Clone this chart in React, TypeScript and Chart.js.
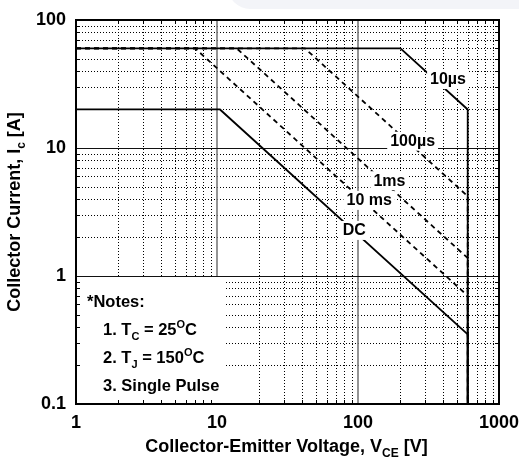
import React, { useEffect, useRef } from "react";
import { Chart, registerables } from "chart.js";
Chart.register(...registerables);

// Axis decades and labels
const xDecades = [1, 10, 100, 1000];
const yDecades = [0.1, 1, 10, 100];
const xTickLabels = ["1", "10", "100", "1000"];
const yTickLabels = ["0.1", "1", "10", "100"];
const minorSteps = [2, 3, 4, 5, 6, 7, 8, 9];

// SOA boundaries (V, A)
const dcV = [1, 10.5, 600, 600];
const dcI = [20, 20, 0.35, 0.1];
const ms10V = [1, 7, 600, 600];
const ms10I = [60, 60, 0.7, 0.1];
const ms1V = [1, 13.8, 600, 600];
const ms1I = [60, 60, 1.38, 0.1];
const us100V = [1, 42, 600, 600];
const us100I = [60, 60, 4.2, 0.1];
const us10V = [1, 200, 600, 600];
const us10I = [60, 60, 20, 0.1];

// Curve annotation labels (data coords of label centers)
const curveLabels = ["10µs", "100µs", "1ms", "10 ms", "DC"];
const curveLabelV = [435, 244, 167, 120, 94];
const curveLabelI = [34.6, 11.4, 5.6, 3.93, 2.29];

// Notes box extent (data coords)
const notesBoxV = [1, 11.4];
const notesBoxI = [0.1, 1];

type Seg = { t: string; sub?: boolean; sup?: boolean };
const notesLines: Seg[][] = [
  [{ t: "*Notes:" }],
  [{ t: "1. T" }, { t: "C", sub: true }, { t: " = 25" }, { t: "O", sup: true }, { t: "C" }],
  [{ t: "2. T" }, { t: "J", sub: true }, { t: " = 150" }, { t: "O", sup: true }, { t: "C" }],
  [{ t: "3. Single Pulse" }],
];
const xTitle: Seg[] = [{ t: "Collector-Emitter Voltage, V" }, { t: "CE", sub: true }, { t: " [V]" }];
const yTitle: Seg[] = [{ t: "Collector Current, I" }, { t: "c", sub: true }, { t: " [A]" }];

const FAM = '"Liberation Sans", Arial, Helvetica, sans-serif';
const font = (s: number) => `bold ${s}px ${FAM}`;

function pts(v: number[], i: number[]) {
  return v.map((x, k) => ({ x, y: i[k] }));
}

function richWidth(ctx: CanvasRenderingContext2D, segs: Seg[], size: number, small: number) {
  let w = 0;
  for (const s of segs) {
    ctx.font = font(s.sub || s.sup ? small : size);
    w += ctx.measureText(s.t).width;
  }
  return w;
}

function drawRich(
  ctx: CanvasRenderingContext2D,
  segs: Seg[],
  x: number,
  y: number,
  size: number,
  small: number,
  align: "left" | "center"
) {
  const w = richWidth(ctx, segs, size, small);
  let cx = align === "center" ? x - w / 2 : x;
  ctx.textBaseline = "alphabetic";
  ctx.textAlign = "left";
  for (const s of segs) {
    ctx.font = font(s.sub || s.sup ? small : size);
    const dy = s.sub ? size * 0.28 : s.sup ? -size * 0.42 : 0;
    ctx.fillText(s.t, cx, y + dy);
    cx += ctx.measureText(s.t).width;
  }
}

const soaPlugin = {
  id: "soaPlugin",
  beforeDraw(chart: any) {
    const ctx: CanvasRenderingContext2D = chart.ctx;
    ctx.save();
    ctx.fillStyle = "#f3f4f8";
    ctx.beginPath();
    (ctx as any).roundRect(228, -40, 400, 49, 22);
    ctx.fill();
    ctx.restore();
  },
  beforeDatasetsDraw(chart: any) {
    const ctx: CanvasRenderingContext2D = chart.ctx;
    const { left, right, top, bottom } = chart.chartArea;
    const xs = chart.scales.x;
    const ys = chart.scales.y;
    ctx.save();
    // minor grid
    ctx.strokeStyle = "#000";
    ctx.lineWidth = 1;
    ctx.setLineDash([1, 2]);
    for (const d of xDecades.slice(0, 3)) {
      for (const m of minorSteps) {
        const px = Math.round(xs.getPixelForValue(d * m)) + 0.5;
        ctx.beginPath();
        ctx.moveTo(px, top);
        ctx.lineTo(px, bottom);
        ctx.stroke();
      }
    }
    for (const d of yDecades.slice(0, 3)) {
      for (const m of minorSteps) {
        const py = Math.round(ys.getPixelForValue(d * m)) + 0.5;
        ctx.beginPath();
        ctx.moveTo(left, py);
        ctx.lineTo(right, py);
        ctx.stroke();
      }
    }
    ctx.setLineDash([]);
    // major verticals (gray)
    ctx.strokeStyle = "#7a7a7a";
    ctx.lineWidth = 1.6;
    for (const d of xDecades.slice(1, 3)) {
      const px = xs.getPixelForValue(d);
      ctx.beginPath();
      ctx.moveTo(px, top);
      ctx.lineTo(px, bottom);
      ctx.stroke();
    }
    // major horizontals (dark)
    ctx.strokeStyle = "#111";
    ctx.lineWidth = 1;
    for (const d of yDecades.slice(1, 3)) {
      const py = Math.round(ys.getPixelForValue(d)) + 0.5;
      ctx.beginPath();
      ctx.moveTo(left, py);
      ctx.lineTo(right, py);
      ctx.stroke();
    }
    ctx.restore();
  },
  afterDatasetsDraw(chart: any) {
    const ctx: CanvasRenderingContext2D = chart.ctx;
    const { left, right, top, bottom } = chart.chartArea;
    const xs = chart.scales.x;
    const ys = chart.scales.y;
    ctx.save();
    // curve labels with white background
    ctx.font = font(16);
    ctx.textAlign = "center";
    ctx.textBaseline = "middle";
    curveLabels.forEach((t, k) => {
      const cx = xs.getPixelForValue(curveLabelV[k]);
      const cy = ys.getPixelForValue(curveLabelI[k]);
      const w = ctx.measureText(t).width;
      ctx.fillStyle = "#fff";
      ctx.fillRect(cx - w / 2 - 3, cy - 9, w + 6, 19);
      ctx.fillStyle = "#000";
      ctx.fillText(t, cx, cy + 1);
    });
    // notes box
    const bx0 = xs.getPixelForValue(notesBoxV[0]);
    const bx1 = xs.getPixelForValue(notesBoxV[1]);
    const by0 = ys.getPixelForValue(notesBoxI[1]);
    const by1 = ys.getPixelForValue(notesBoxI[0]);
    ctx.fillStyle = "#fff";
    ctx.fillRect(bx0, by0 + 1, bx1 - bx0, by1 - by0);
    ctx.fillStyle = "#000";
    const offY = [31, 59, 87, 115];
    const offX = [11, 27, 27, 27];
    notesLines.forEach((segs, k) => {
      drawRich(ctx, segs, left + offX[k], by0 + offY[k], 16.5, 11, "left");
    });
    // inside tick stubs on all borders
    ctx.strokeStyle = "#000";
    ctx.lineWidth = 1;
    for (const d of xDecades.slice(0, 3)) {
      for (const m of minorSteps) {
        const px = Math.round(xs.getPixelForValue(d * m)) + 0.5;
        ctx.beginPath();
        ctx.moveTo(px, top);
        ctx.lineTo(px, top + 4);
        ctx.moveTo(px, bottom);
        ctx.lineTo(px, bottom - 4);
        ctx.stroke();
      }
    }
    for (const d of yDecades.slice(0, 3)) {
      for (const m of minorSteps) {
        const py = Math.round(ys.getPixelForValue(d * m)) + 0.5;
        ctx.beginPath();
        ctx.moveTo(left, py);
        ctx.lineTo(left + 4, py);
        ctx.moveTo(right, py);
        ctx.lineTo(right - 4, py);
        ctx.stroke();
      }
    }
    // border
    ctx.lineWidth = 2;
    ctx.strokeStyle = "#000";
    ctx.strokeRect(left, top, right - left, bottom - top);
    ctx.restore();
  },
  afterDraw(chart: any) {
    const ctx: CanvasRenderingContext2D = chart.ctx;
    const { left, right, top, bottom } = chart.chartArea;
    ctx.save();
    ctx.fillStyle = "#000";
    drawRich(ctx, xTitle, (left + right) / 2 - 1, bottom + 48, 18, 12, "center");
    ctx.translate(20, (top + bottom) / 2);
    ctx.rotate(-Math.PI / 2);
    drawRich(ctx, yTitle, 0, 0, 18, 12, "center");
    ctx.restore();
  },
};

export default function App() {
  const ref = useRef<HTMLCanvasElement | null>(null);
  useEffect(() => {
    if (!ref.current) return;
    const solid = { borderColor: "#000", borderWidth: 1.8, pointRadius: 0, showLine: true, fill: false };
    const dashed = { ...solid, borderDash: [5, 4] };
    const chart = new Chart(ref.current, {
      type: "scatter",
      data: {
        datasets: [
          { label: "10 ms", data: pts(ms10V, ms10I), ...dashed },
          { label: "1ms", data: pts(ms1V, ms1I), ...dashed },
          { label: "100µs", data: pts(us100V, us100I), ...dashed },
          { label: "DC", data: pts(dcV, dcI), ...solid },
          { label: "10µs", data: pts(us10V, us10I), ...solid },
        ] as any,
      },
      options: {
        animation: false,
        responsive: true,
        maintainAspectRatio: false,
        layout: { padding: { top: 20, right: 20, left: 0, bottom: 0 } },
        plugins: { legend: { display: false }, tooltip: { enabled: false } },
        scales: {
          x: {
            type: "logarithmic",
            min: 1,
            max: 1000,
            grid: { display: false, drawTicks: false },
            border: { display: false },
            afterBuildTicks: (s: any) => {
              s.ticks = xDecades.map((v) => ({ value: v }));
            },
            afterFit: (s: any) => {
              s.height = 58;
              s.paddingLeft = 0;
              s.paddingRight = 0;
            },
            ticks: {
              autoSkip: false,
              maxRotation: 0,
              padding: 8,
              color: "#000",
              font: { size: 18, weight: "bold", family: FAM },
              callback: (_v: any, i: number) => xTickLabels[i],
            },
          },
          y: {
            type: "logarithmic",
            min: 0.1,
            max: 100,
            grid: { display: false, drawTicks: false },
            border: { display: false },
            afterBuildTicks: (s: any) => {
              s.ticks = yDecades.map((v) => ({ value: v }));
            },
            afterFit: (s: any) => {
              s.width = 76;
              s.paddingTop = 0;
              s.paddingBottom = 0;
            },
            ticks: {
              autoSkip: false,
              padding: 10,
              color: "#000",
              font: { size: 18, weight: "bold", family: FAM },
              callback: (_v: any, i: number) => yTickLabels[i],
            },
          },
        },
      } as any,
      plugins: [soaPlugin],
    });
    return () => chart.destroy();
  }, []);
  return (
    <div style={{ position: "fixed", left: 0, top: 0, width: 519, height: 462, background: "#fff" }}>
      <canvas ref={ref} />
    </div>
  );
}
